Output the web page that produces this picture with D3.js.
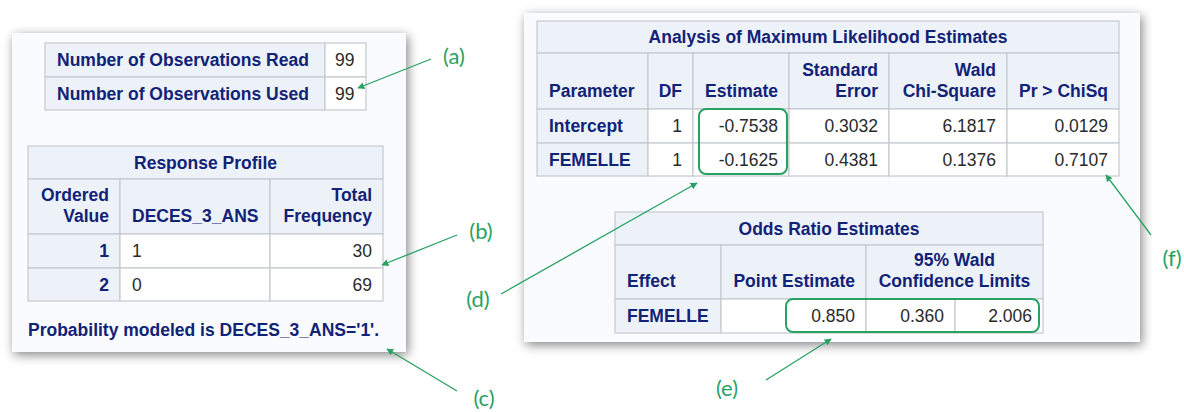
<!DOCTYPE html>
<html><head><meta charset="utf-8">
<script src="https://cdn.jsdelivr.net/npm/d3@7"></script>
<style>html,body{margin:0;padding:0;background:#fff;}svg{display:block;}</style>
</head><body>
<svg id="c" width="1184" height="412"></svg>
<script>
// ---------- data ----------
const obsLabels = ["Number of Observations Read", "Number of Observations Used"];
const obsValues = [99, 99];

const respTitle = "Response Profile";
const respOrdered = [1, 2];
const respDeces = [1, 0];
const respFreq = [30, 69];
const respNote = "Probability modeled is DECES_3_ANS='1'.";

const mleTitle = "Analysis of Maximum Likelihood Estimates";
const mleParams = ["Intercept", "FEMELLE"];
const mleDF = [1, 1];
const mleEst = [-0.7538, -0.1625];
const mleSE = [0.3032, 0.4381];
const mleChi = [6.1817, 0.1376];
const mleP = [0.0129, 0.7107];

const orTitle = "Odds Ratio Estimates";
const orEffect = ["FEMELLE"];
const orPoint = [0.850];
const orLow = [0.360];
const orHigh = [2.006];

const annotLabels = ["(a)", "(b)", "(c)", "(d)", "(e)", "(f)"];

// ---------- styles / layout ----------
const C = {hdrBg: "#edf2f9", border: "#c5c8cf", hdrText: "#112277", dataText: "#2a2a2a",
           panel: "#fafbfe", green: "#28a262"};
const FS = 17.5;
const loc = d3.formatLocale({decimal: ".", thousands: ",", grouping: [3], currency: ["$", ""], minus: "-"});
const f4 = loc.format(".4f"), f3 = loc.format(".3f");

const svg = d3.select("#c");
const defs = svg.append("defs");
const flt = defs.append("filter").attr("id", "sh").attr("x", "-10%").attr("y", "-10%").attr("width", "120%").attr("height", "125%");
flt.append("feDropShadow").attr("dx", 2).attr("dy", 3).attr("stdDeviation", 5.5).attr("flood-color", "#000").attr("flood-opacity", 0.48);
const mk = defs.append("marker").attr("id", "ah").attr("viewBox", "0 0 10 10").attr("refX", 9).attr("refY", 5)
  .attr("markerWidth", 7).attr("markerHeight", 7).attr("orient", "auto").attr("markerUnits", "userSpaceOnUse");
mk.append("path").attr("d", "M0,0L10,5L0,10Z").attr("fill", C.green);

svg.append("rect").attr("width", 1184).attr("height", 412).attr("fill", "#fff");

// panels
const panels = [{x: 12, y: 33, w: 394, h: 319}, {x: 524, y: 13, w: 616, h: 329}];
svg.selectAll("rect.panel").data(panels).join("rect").attr("class", "panel")
  .attr("x", d => d.x).attr("y", d => d.y).attr("width", d => d.w).attr("height", d => d.h)
  .attr("fill", C.panel).attr("filter", "url(#sh)");

// generic table: rows = [{h, cells:[{lines, span, hdr, align}]}]
function drawTable(x0, y0, widths, rows) {
  const g = svg.append("g").attr("font-family", "'Liberation Sans', Arial, sans-serif").attr("font-size", FS);
  const edges = [0, ...d3.cumsum(widths)];
  const colX = i => x0 + edges[i];
  const rowY = [0, ...d3.cumsum(rows, r => r.h)].map(v => y0 + v);
  const cells = [];
  rows.forEach((r, ri) => {
    let ci = 0;
    r.cells.forEach(c => {
      const span = c.span || 1;
      cells.push({...c, x: colX(ci), w: colX(ci + span) - colX(ci), y: rowY[ri], h: r.h});
      ci += span;
    });
  });
  g.selectAll("rect").data(cells).join("rect")
    .attr("x", d => d.x).attr("y", d => d.y).attr("width", d => d.w).attr("height", d => d.h)
    .attr("fill", d => d.hdr ? C.hdrBg : "#fff").attr("stroke", C.border).attr("stroke-width", 1.2);
  const pad = 11;
  cells.forEach(d => {
    const lines = Array.isArray(d.lines) ? d.lines : [d.lines];
    const n = lines.length;
    lines.forEach((t, li) => {
      let base;
      if (d.bottom) base = d.y + d.h - 12 - (n - 1 - li) * 21;
      else base = d.y + d.h / 2 + 6.2 + (li - (n - 1) / 2) * 21;
      const ax = d.align === "right" ? d.x + d.w - pad : d.align === "center" ? d.x + d.w / 2 : d.x + (d.padL || 12);
      g.append("text").attr("x", ax).attr("y", base)
        .attr("text-anchor", d.align === "right" ? "end" : d.align === "center" ? "middle" : "start")
        .attr("font-weight", d.hdr ? "bold" : "normal")
        .attr("fill", d.hdr ? C.hdrText : C.dataText).text(t);
    });
  });
  return {colX, rowY};
}

// Table 1: observations
drawTable(45, 43, [280, 41],
  obsLabels.map((l, i) => ({h: i === 0 ? 34 : 33, cells: [
    {lines: l, hdr: true, align: "left"},
    {lines: String(obsValues[i]), align: "left", padL: 10}]})));

// Table 2: response profile
drawTable(28, 146, [92, 150, 113], [
  {h: 33, cells: [{lines: respTitle, hdr: true, align: "center", span: 3}]},
  {h: 55, cells: [
    {lines: ["Ordered", "Value"], hdr: true, align: "right", bottom: true},
    {lines: ["DECES_3_ANS"], hdr: true, align: "left", bottom: true},
    {lines: ["Total", "Frequency"], hdr: true, align: "right", bottom: true}]},
  ...respOrdered.map((o, i) => ({h: i === 0 ? 34 : 33, cells: [
    {lines: String(o), hdr: true, align: "right"},
    {lines: String(respDeces[i]), align: "left"},
    {lines: String(respFreq[i]), align: "right"}]}))
]);
svg.append("text").attr("x", 28).attr("y", 336).attr("font-family", "'Liberation Sans', Arial, sans-serif")
  .attr("font-size", FS).attr("font-weight", "bold").attr("fill", C.hdrText).text(respNote);

// Table 3: MLE
const mle = drawTable(537, 21, [111, 45, 96, 100, 118, 112], [
  {h: 32, cells: [{lines: mleTitle, hdr: true, align: "center", span: 6}]},
  {h: 56, cells: [
    {lines: ["Parameter"], hdr: true, align: "left", bottom: true},
    {lines: ["DF"], hdr: true, align: "right", bottom: true},
    {lines: ["Estimate"], hdr: true, align: "right", bottom: true},
    {lines: ["Standard", "Error"], hdr: true, align: "right", bottom: true},
    {lines: ["Wald", "Chi-Square"], hdr: true, align: "right", bottom: true},
    {lines: ["Pr > ChiSq"], hdr: true, align: "right", bottom: true}]},
  ...mleParams.map((p, i) => ({h: i === 0 ? 34 : 33, cells: [
    {lines: p, hdr: true, align: "left"},
    {lines: String(mleDF[i]), align: "right"},
    {lines: f4(mleEst[i]), align: "right"},
    {lines: f4(mleSE[i]), align: "right"},
    {lines: f4(mleChi[i]), align: "right"},
    {lines: f4(mleP[i]), align: "right"}]}))
]);

// Table 4: odds ratio
const ort = drawTable(615, 212, [106, 145, 89, 88], [
  {h: 33, cells: [{lines: orTitle, hdr: true, align: "center", span: 4}]},
  {h: 54, cells: [
    {lines: ["Effect"], hdr: true, align: "left", bottom: true},
    {lines: ["Point Estimate"], hdr: true, align: "right", bottom: true},
    {lines: ["95% Wald", "Confidence Limits"], hdr: true, align: "center", bottom: true, span: 2}]},
  ...orEffect.map((e, i) => ({h: 34, cells: [
    {lines: e, hdr: true, align: "left"},
    {lines: f3(orPoint[i]), align: "right"},
    {lines: f3(orLow[i]), align: "right"},
    {lines: f3(orHigh[i]), align: "right"}]}))
]);

// green highlight boxes
const boxes = [
  {x: mle.colX(2) + 6, y: mle.rowY[2], x2: mle.colX(3) - 2, y2: mle.rowY[4] - 2},
  {x: ort.colX(1) + 65, y: ort.rowY[2], x2: ort.colX(4) - 4, y2: ort.rowY[3] - 1}
];
svg.selectAll("rect.hl").data(boxes).join("rect").attr("class", "hl")
  .attr("x", d => d.x).attr("y", d => d.y).attr("width", d => d.x2 - d.x).attr("height", d => d.y2 - d.y)
  .attr("rx", 7).attr("fill", "none").attr("stroke", C.green).attr("stroke-width", 2);

// annotations
const annotPos = [
  {tx: 454, ty: 55, x1: 431, y1: 59, x2: 358, y2: 88},
  {tx: 481, ty: 230, x1: 457, y1: 235, x2: 382, y2: 265},
  {tx: 484, ty: 397, x1: 457, y1: 391, x2: 387, y2: 349},
  {tx: 478, ty: 298, x1: 501, y1: 294, x2: 697, y2: 183},
  {tx: 727, ty: 387, x1: 766, y1: 380, x2: 831, y2: 339},
  {tx: 1172, ty: 257, x1: 1151, y1: 235, x2: 1106, y2: 175}
];
const ann = svg.append("g");
ann.selectAll("line").data(annotPos).join("line")
  .attr("x1", d => d.x1).attr("y1", d => d.y1).attr("x2", d => d.x2).attr("y2", d => d.y2)
  .attr("stroke", C.green).attr("stroke-width", 1.3).attr("marker-end", "url(#ah)");
ann.selectAll("text").data(annotLabels).join("text")
  .attr("x", (d, i) => annotPos[i].tx).attr("y", (d, i) => annotPos[i].ty)
  .attr("text-anchor", "middle").attr("dominant-baseline", "central")
  .attr("font-family", "Lato, 'Open Sans', sans-serif").attr("font-size", 22)
  .attr("fill", C.green).text(d => d);
</script>
</body></html>
